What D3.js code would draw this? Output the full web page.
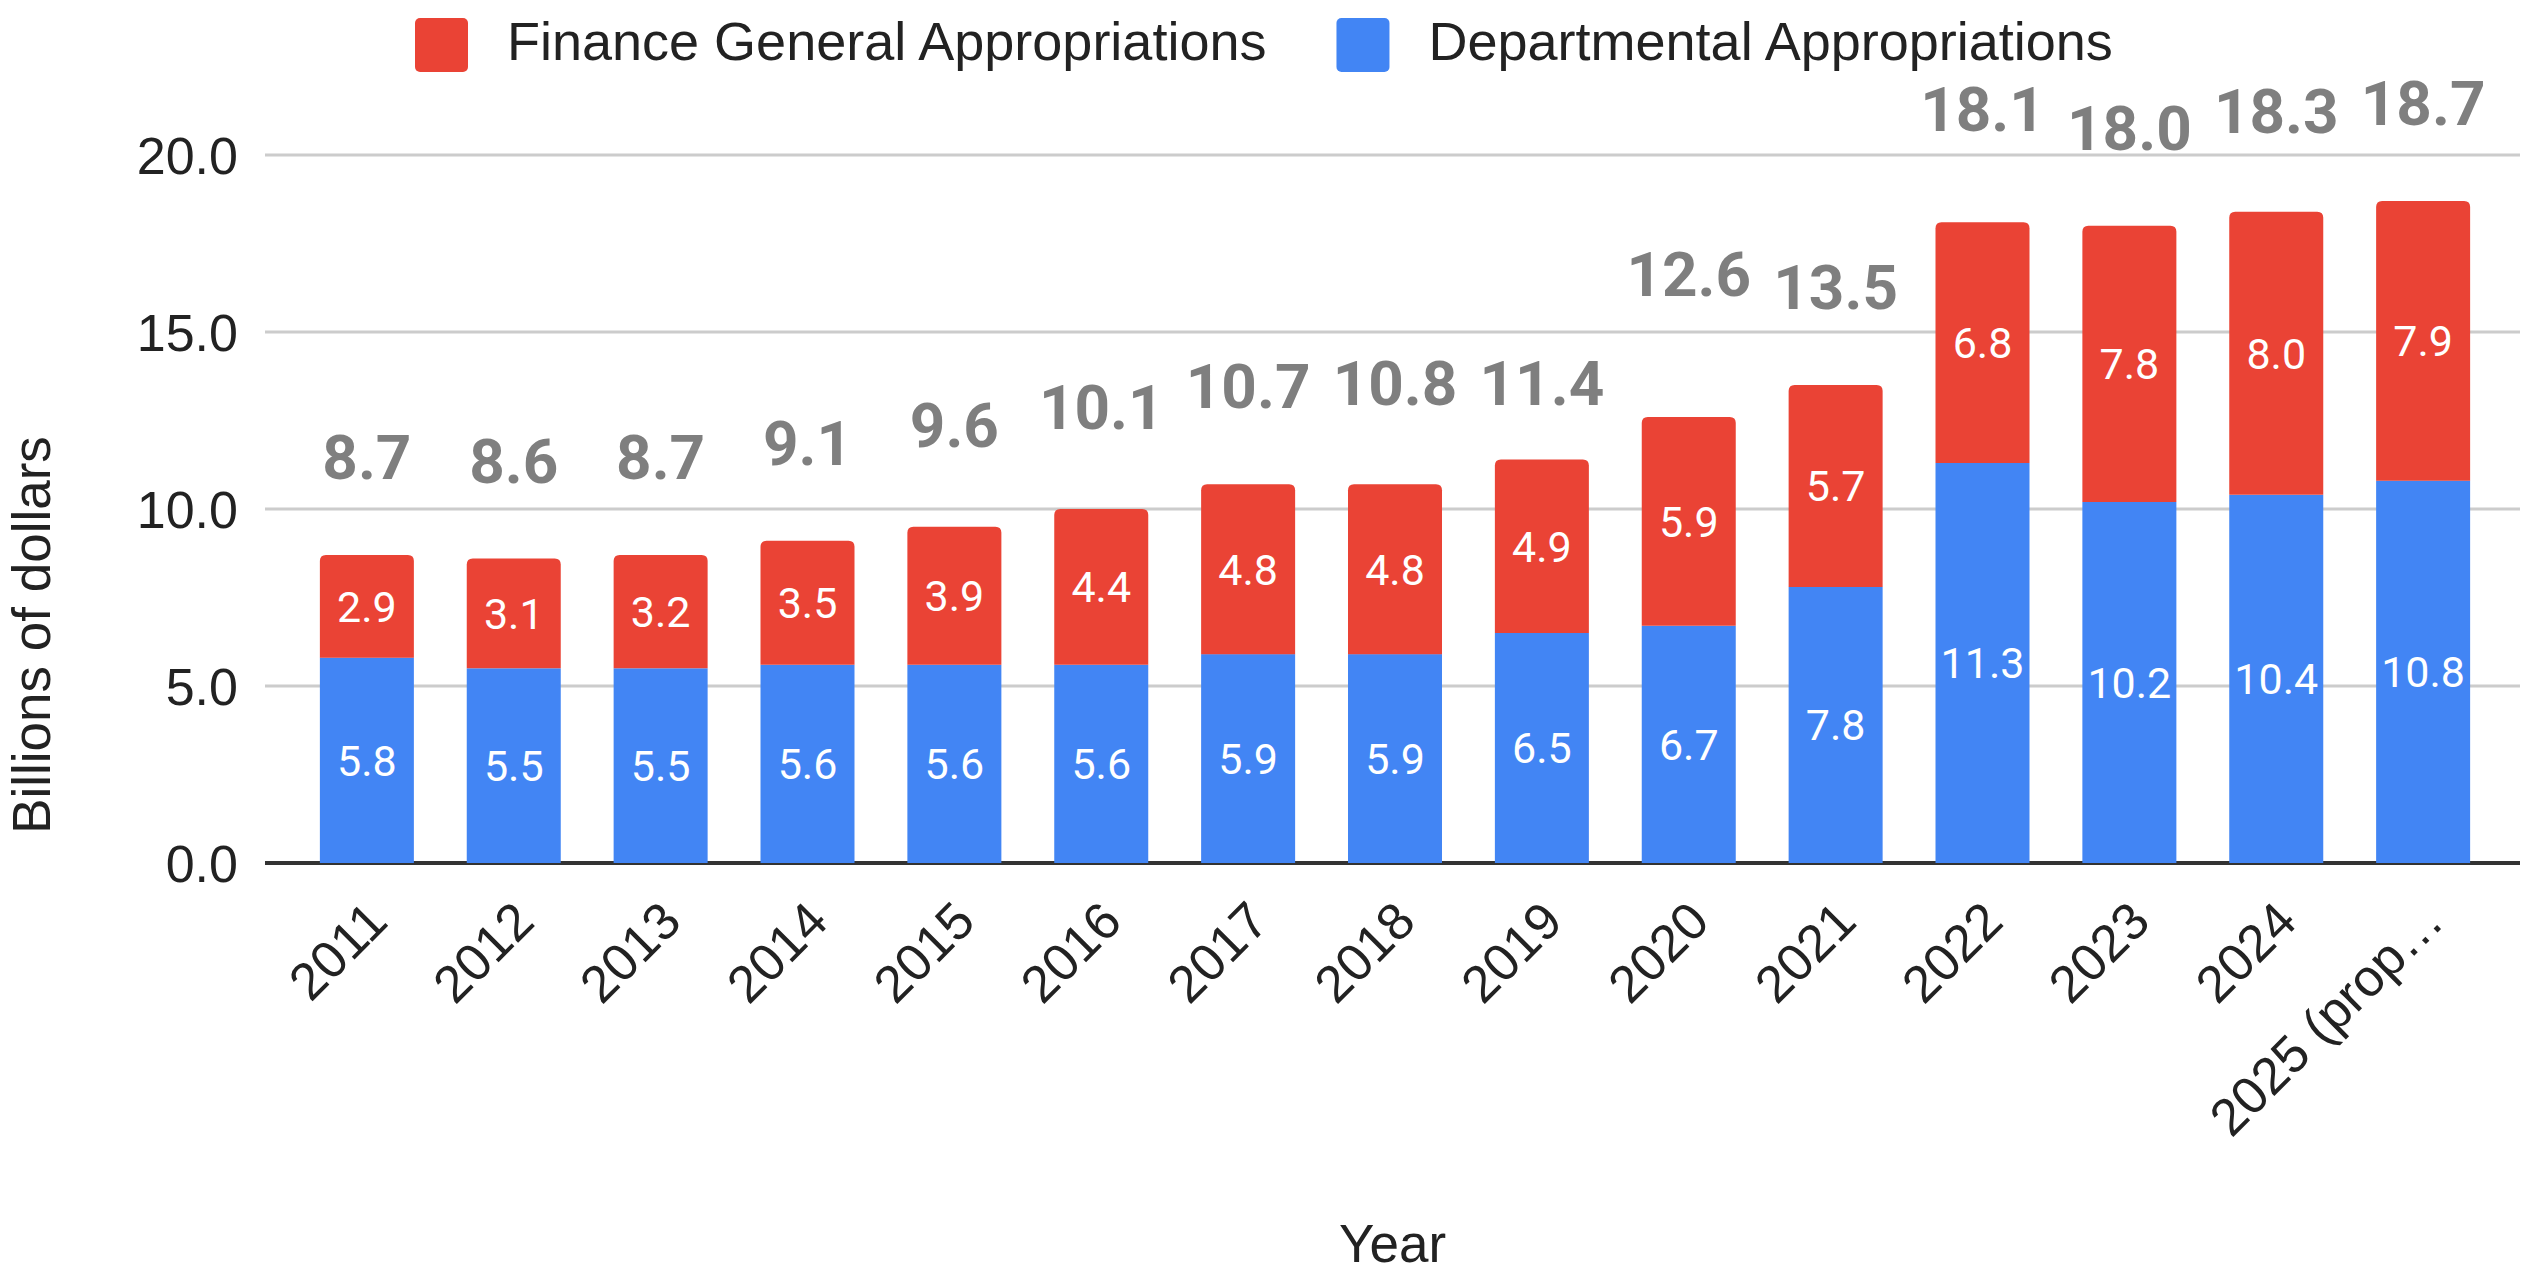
<!DOCTYPE html>
<html>
<head>
<meta charset="utf-8">
<script src="https://cdn.jsdelivr.net/npm/d3@7"></script>
<style>
  html, body { margin: 0; padding: 0; background: #ffffff; }
  svg { display: block; }
</style>
</head>
<body>
<svg id="chart"></svg>
<script>
// ---- Data ----
const years = ["2011","2012","2013","2014","2015","2016","2017","2018","2019","2020","2021","2022","2023","2024","2025 (proposed)"];
const tickLabels = ["2011","2012","2013","2014","2015","2016","2017","2018","2019","2020","2021","2022","2023","2024","2025 (prop\u2026"];
const departmental = [5.8,5.5,5.5,5.6,5.6,5.6,5.9,5.9,6.5,6.7,7.8,11.3,10.2,10.4,10.8];
const financeGeneral = [2.9,3.1,3.2,3.5,3.9,4.4,4.8,4.8,4.9,5.9,5.7,6.8,7.8,8.0,7.9];
const totals = [8.7,8.6,8.7,9.1,9.6,10.1,10.7,10.8,11.4,12.6,13.5,18.1,18.0,18.3,18.7];
const yTicks = [0,5,10,15,20];
const seriesNames = ["Finance General Appropriations","Departmental Appropriations"];
const seriesColors = ["#EA4335","#4285F4"];

// ---- Layout ----
const W = 2523, H = 1276;
const plotLeft = 265, plotRight = 2520, plotTop = 155, plotBottom = 863;
const axisFont = "'Liberation Sans', Arial, Helvetica, sans-serif";
const labelFont = "Roboto, 'Liberation Sans', Arial, sans-serif";
// label placement tweaks (pixels), mimicking the original's collision-avoiding placement
const totalLabelNudge = [0,0,0,0,0,0,0,0,22,-45,0,-15,0,-6,0];

const svg = d3.select("#chart").attr("width", W).attr("height", H);
svg.append("rect").attr("width", W).attr("height", H).attr("fill", "#ffffff");

const x = d3.scaleBand().domain(years).range([267, 2523]).padding(0.36);
const y = d3.scaleLinear().domain([0, 20]).range([plotBottom, plotTop]);

// Gridlines
svg.append("g").selectAll("line").data(yTicks.filter(d => d !== 0)).join("line")
  .attr("x1", plotLeft).attr("x2", plotRight)
  .attr("y1", d => y(d)).attr("y2", d => y(d))
  .attr("stroke", "#cccccc").attr("stroke-width", 3);

// Y axis tick labels
const yAxis = d3.axisLeft(y).tickValues(yTicks).tickFormat(d3.format(".1f")).tickSize(0).tickPadding(0);
const yg = svg.append("g").attr("transform", `translate(238,0)`).call(yAxis);
yg.select(".domain").remove();
yg.selectAll("text").attr("font-family", axisFont).attr("font-size", 52).attr("fill", "#222222").attr("dy", "0.36em").attr("x", 0);

// Baseline
svg.append("line").attr("x1", plotLeft).attr("x2", plotRight)
  .attr("y1", y(0)).attr("y2", y(0)).attr("stroke", "#333333").attr("stroke-width", 4);

// Rounded-top rect path
function topRounded(x0, y0, w, h, r) {
  return `M${x0},${y0 + h} L${x0},${y0 + r} Q${x0},${y0} ${x0 + r},${y0} L${x0 + w - r},${y0} Q${x0 + w},${y0} ${x0 + w},${y0 + r} L${x0 + w},${y0 + h} Z`;
}

const rows = years.map((yr, i) => ({ yr, i, dep: departmental[i], fin: financeGeneral[i], tot: totals[i] }));
const bw = x.bandwidth();

// Departmental (bottom, blue)
svg.append("g").selectAll("rect").data(rows).join("rect")
  .attr("x", d => x(d.yr)).attr("width", bw)
  .attr("y", d => y(d.dep)).attr("height", d => y(0) - y(d.dep))
  .attr("fill", seriesColors[1]);

// Finance General (top, red) with rounded top corners
svg.append("g").selectAll("path").data(rows).join("path")
  .attr("d", d => topRounded(x(d.yr), y(d.dep + d.fin), bw, y(d.dep) - y(d.dep + d.fin), 6))
  .attr("fill", seriesColors[0]);

// Segment labels
svg.append("g").selectAll("text").data(rows).join("text")
  .attr("x", d => x(d.yr) + bw / 2).attr("y", d => (y(0) + y(d.dep)) / 2)
  .attr("text-anchor", "middle").attr("dy", "0.36em")
  .attr("font-family", labelFont).attr("font-size", 43).attr("fill", "#ffffff")
  .text(d => d3.format(".1f")(d.dep));
svg.append("g").selectAll("text").data(rows).join("text")
  .attr("x", d => x(d.yr) + bw / 2).attr("y", d => (y(d.dep) + y(d.dep + d.fin)) / 2)
  .attr("text-anchor", "middle").attr("dy", "0.36em")
  .attr("font-family", labelFont).attr("font-size", 43).attr("fill", "#ffffff")
  .text(d => d3.format(".1f")(d.fin));

// Total labels
svg.append("g").selectAll("text").data(rows).join("text")
  .attr("x", d => x(d.yr) + bw / 2).attr("y", d => y(d.tot) - 76 + totalLabelNudge[d.i])
  .attr("text-anchor", "middle")
  .attr("font-family", labelFont).attr("font-weight", "bold").attr("font-size", 62).attr("fill", "#7f7f7f")
  .text(d => d3.format(".1f")(d.tot));

// X tick labels (rotated)
svg.append("g").selectAll("text").data(rows).join("text")
  .attr("transform", d => `translate(${x(d.yr) + bw / 2 + 23},924) rotate(-45)`)
  .attr("text-anchor", "end")
  .attr("font-family", axisFont).attr("font-size", 52).attr("fill", "#222222")
  .text(d => tickLabels[d.i]);

// Axis titles
svg.append("text").attr("transform", "translate(50,635) rotate(-90)")
  .attr("text-anchor", "middle").attr("font-family", axisFont).attr("font-size", 53).attr("fill", "#222222")
  .text("Billions of dollars");
svg.append("text").attr("x", (plotLeft + plotRight) / 2).attr("y", 1262)
  .attr("text-anchor", "middle").attr("font-family", axisFont).attr("font-size", 53).attr("fill", "#222222")
  .text("Year");

// Legend
const leg = svg.append("g");
let lx = 415;
seriesNames.forEach((name, i) => {
  leg.append("rect").attr("x", lx).attr("y", 18).attr("width", 53).attr("height", 54).attr("rx", 5)
    .attr("fill", seriesColors[i]);
  const t = leg.append("text").attr("x", lx + 92).attr("y", 60)
    .attr("font-family", axisFont).attr("font-size", 54).attr("fill", "#222222").text(name);
  lx = lx + 92 + t.node().getComputedTextLength() + 70;
});
</script>
</body>
</html>
